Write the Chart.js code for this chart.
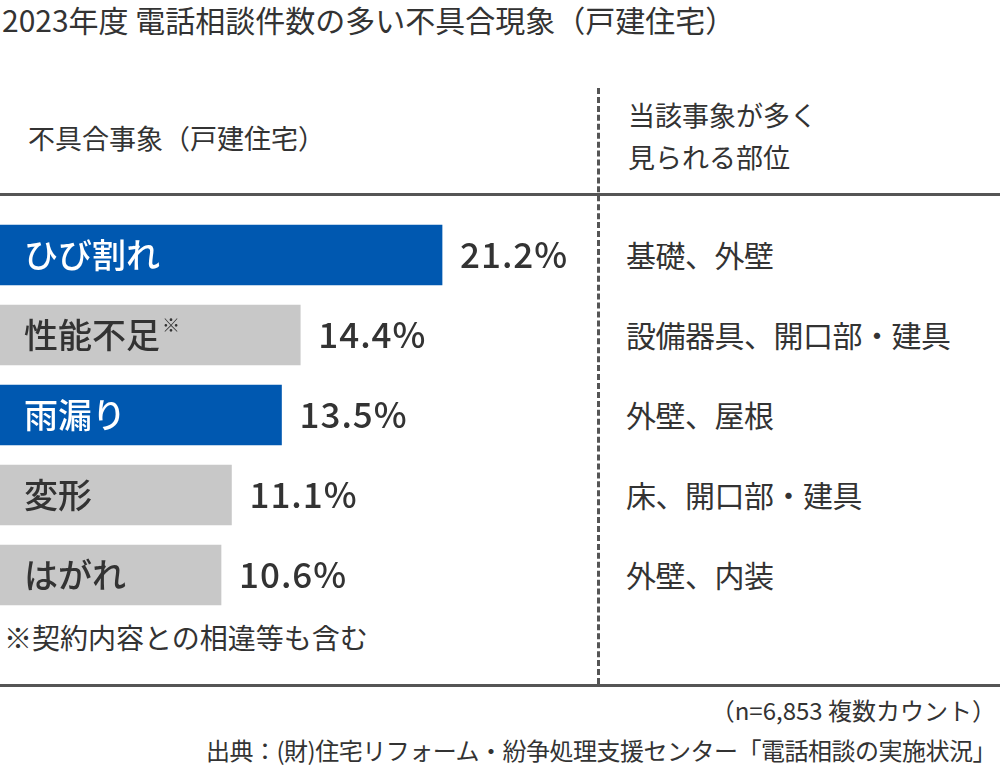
<!DOCTYPE html>
<html><head><meta charset="utf-8">
<script src="https://cdn.jsdelivr.net/npm/chart.js@4"></script>
<style>
body{margin:0;width:1000px;height:773px;background:#fff;font-family:"Noto Sans CJK JP","Noto Sans",sans-serif;color:#333;position:relative;overflow:hidden}
.t{position:absolute;white-space:nowrap}
</style></head><body>
<div class="t" style="left:2px;top:-3px;font-size:30px;">2023年度 電話相談件数の多い不具合現象（戸建住宅）</div>
<div class="t" style="left:28px;top:118px;font-size:27px;">不具合事象（戸建住宅）</div>
<div class="t" style="left:628px;top:94px;font-size:27px;line-height:42px;">当該事象が多く<br>見られる部位</div>
<div style="position:absolute;left:0;top:193px;width:1000px;height:3px;background:#555"></div>
<div style="position:absolute;left:0;top:684px;width:1000px;height:3px;background:#555"></div>
<div style="position:absolute;left:597px;top:88px;height:596px;border-left:3px dashed #555"></div>
<div id="parts"></div>
<div class="t" style="left:4px;top:617px;font-size:28px;">※契約内容との相違等も含む</div>
<div class="t" style="right:4px;top:692px;font-size:24px;">（n=6,853 複数カウント）</div>
<div class="t" style="right:4px;top:732px;font-size:24px;letter-spacing:-0.5px;">出典：(財)住宅リフォーム・紛争処理支援センター「電話相談の実施状況」</div>
<div style="position:absolute;left:0;top:215px;width:598px;height:400px"><canvas id="c"></canvas></div>
<script>
const categories=["ひび割れ","性能不足","雨漏り","変形","はがれ"];
const notes=["","※","","",""];
const values=[21.2,14.4,13.5,11.1,10.6];
const highlight=[true,false,true,false,false];
const parts=["基礎、外壁","設備器具、開口部・建具","外壁、屋根","床、開口部・建具","外壁、内装"];
const pd=document.getElementById('parts');
parts.forEach((p,i)=>{const d=document.createElement('div');d.className='t';d.style.cssText=`left:626px;top:${232+i*80}px;font-size:30px;letter-spacing:-0.5px;`;d.textContent=p;pd.appendChild(d);});
const labelPlugin={id:'lbl',afterDatasetsDraw(ch){const ctx=ch.ctx;const meta=ch.getDatasetMeta(0);
meta.data.forEach((b,i)=>{ctx.save();ctx.textBaseline='middle';
ctx.font='500 34px "Noto Sans CJK JP"';ctx.fillStyle=highlight[i]?'#fff':'#333';ctx.textAlign='left';
ctx.fillText(categories[i],24,b.y);
if(notes[i]){const w=ctx.measureText(categories[i]).width;ctx.font='18px "Noto Sans CJK JP"';ctx.fillText(notes[i],26+w,b.y-10);}
ctx.font='500 35px "Noto Sans CJK JP"';ctx.fillStyle='#333';
ctx.letterSpacing='1px';ctx.fillText(values[i].toFixed(1)+'%',b.x+18,b.y);
ctx.restore();});}};
new Chart(document.getElementById('c'),{type:'bar',
data:{labels:categories,datasets:[{data:values,backgroundColor:highlight.map(h=>h?'#0058b0':'#c8c8c8'),barThickness:60,borderWidth:0}]},
options:{indexAxis:'y',responsive:true,maintainAspectRatio:false,animation:false,
layout:{padding:0},plugins:{legend:{display:false},tooltip:{enabled:false}},
scales:{x:{min:0,max:28.68,display:false},y:{display:false}}},plugins:[labelPlugin]});
</script></body></html>
